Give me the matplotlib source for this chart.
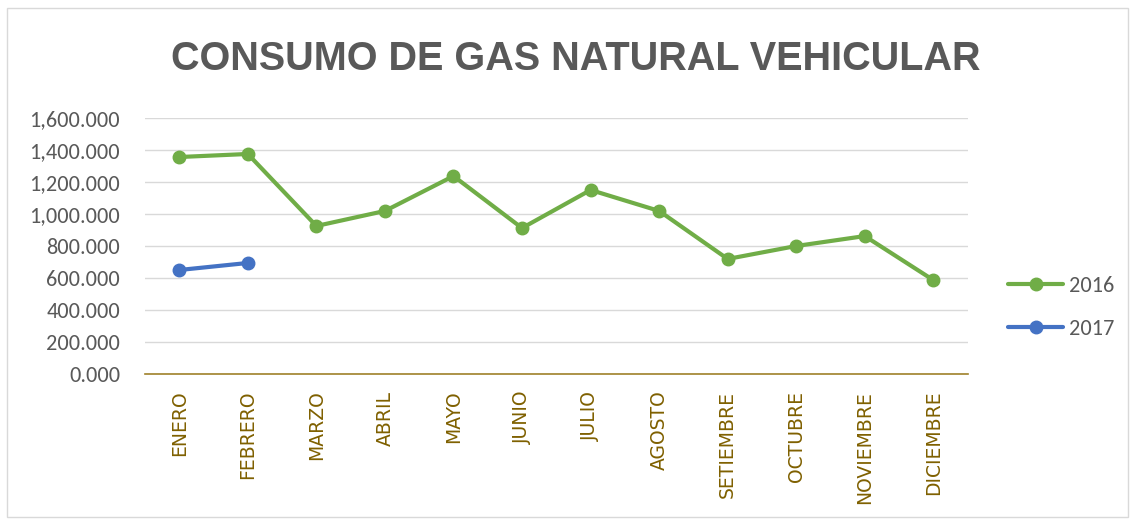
import matplotlib.pyplot as plt
from matplotlib.patches import Rectangle

meses = ['ENERO', 'FEBRERO', 'MARZO', 'ABRIL', 'MAYO', 'JUNIO', 'JULIO',
         'AGOSTO', 'SETIEMBRE', 'OCTUBRE', 'NOVIEMBRE', 'DICIEMBRE']
consumo_2016 = [1356, 1375, 925, 1019, 1237, 912, 1150, 1019, 719, 800, 862, 587]
consumo_2017 = [650, 694]
yticks = [0, 200, 400, 600, 800, 1000, 1200, 1400, 1600]

fig = plt.figure(figsize=(11.33, 5.22), dpi=100)
ax = fig.add_axes([0.128, 0.2835, 0.726, 0.4905])

x = list(range(len(meses)))
ax.plot(x, consumo_2016, color='#70AD47', linewidth=3, marker='o', markersize=9,
        label='2016', solid_capstyle='round')
ax.plot(x[:len(consumo_2017)], consumo_2017, color='#4472C4', linewidth=3, marker='o',
        markersize=9, label='2017', solid_capstyle='round')

ax.set_xlim(-0.5, 11.5)
ax.set_ylim(0, 1600)
ax.set_yticks(yticks)
ax.set_yticklabels(['{:,}.000'.format(v) for v in yticks], fontsize=16, color='#595959',
                   family=['Carlito', 'Liberation Sans', 'DejaVu Sans'])
ax.set_xticks(x)
ax.set_xticklabels(meses, rotation=90, fontsize=13.5, color='#7F6000',
                   family=['DejaVu Sans'])
ax.tick_params(axis='y', length=0, pad=18)
ax.tick_params(axis='x', length=0, pad=12)

ax.grid(axis='y', color='#D9D9D9', linewidth=1)
ax.set_axisbelow(True)
for s in ['top', 'right', 'left']:
    ax.spines[s].set_visible(False)
ax.spines['bottom'].set_color('#A0822A')
ax.spines['bottom'].set_linewidth(1.2)

fig.text(0.508, 0.887, 'CONSUMO DE GAS NATURAL VEHICULAR', ha='center', va='center',
         fontsize=28.5, fontweight='bold', color='#595959',
         family=['Liberation Sans Narrow', 'Liberation Sans', 'DejaVu Sans'])

leg = ax.legend(loc='center left', bbox_to_anchor=(1.038, 0.26), frameon=False,
                labelspacing=1.05, handlelength=2.5, handletextpad=0.25,
                borderaxespad=0,
                prop={'family': ['Carlito', 'Liberation Sans', 'DejaVu Sans'], 'size': 16})
for t in leg.get_texts():
    t.set_color('#595959')

fig.patches.append(Rectangle((0.006, 0.01), 0.99, 0.975, transform=fig.transFigure,
                             fill=False, edgecolor='#D9D9D9', linewidth=1))

fig.savefig('out.png', dpi=100)
